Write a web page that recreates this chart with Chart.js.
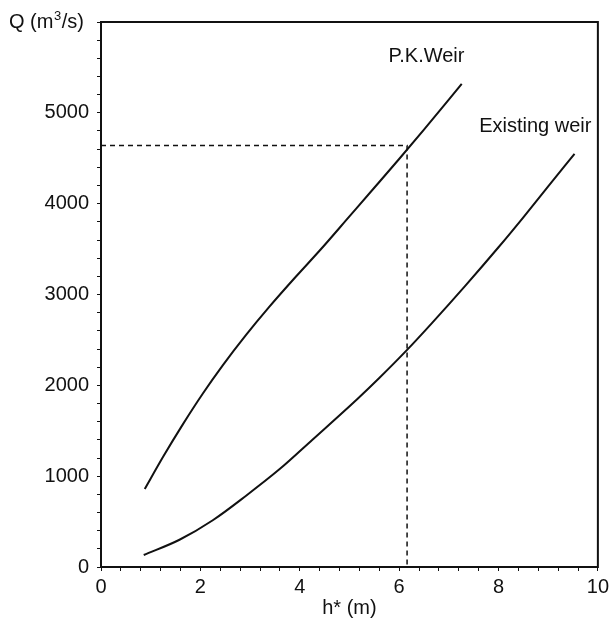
<!DOCTYPE html>
<html>
<head>
<meta charset="utf-8">
<script src="https://cdn.jsdelivr.net/npm/chart.js@4.4.1/dist/chart.umd.min.js"></script>
<style>
  html, body { margin: 0; padding: 0; background: #fff; }
  #wrap { width: 613px; height: 622px; }
</style>
</head>
<body>
<div id="wrap"><canvas id="chart" width="613" height="622"></canvas></div>
<script>
// values: h* (m) against Q (m3/s)
const pkH = [0.88, 1.25, 1.65, 2.05, 2.45, 2.92, 3.39, 3.92, 4.42, 5.0, 5.5, 6.0, 6.5, 7.0, 7.26];
const pkQ = [858, 1213, 1573, 1910, 2220, 2555, 2866, 3195, 3495, 3860, 4175, 4492, 4815, 5145, 5320];

const exH = [0.86, 1.58, 2.25, 2.92, 3.59, 4.25, 5.16, 5.59, 6.16, 6.66, 7.33, 8.0, 8.5, 9.0, 9.53];
const exQ = [132, 300, 515, 785, 1075, 1399, 1850, 2075, 2390, 2685, 3095, 3520, 3850, 4190, 4548];

// reading lines for the design discharge
const readH = [0, 6.16, 6.16];
const readQ = [4640, 4640, 0];

const curveNames = ['P.K.Weir', 'Existing weir'];
const labelH = [6.55, 8.74];
const labelQ = [5620, 4850];

const FONT = '"Liberation Sans", Arial, Helvetica, sans-serif';

function toPoints(xs, ys) {
    return xs.map((x, i) => ({ x: x, y: ys[i] }));
}

// frame, curve names and the Q axis heading
const extrasPlugin = {
    id: 'extras',
    afterDraw(chart) {
        const ctx = chart.ctx;
        const area = chart.chartArea;
        const xs = chart.scales.x;
        const ys = chart.scales.y;
        ctx.save();
        ctx.strokeStyle = '#111';
        ctx.lineWidth = 2;
        ctx.beginPath();
        ctx.moveTo(area.left, area.bottom);
        ctx.lineTo(area.left, area.top);
        ctx.lineTo(area.right, area.top);
        ctx.lineTo(area.right, area.bottom);
        ctx.lineTo(area.left, area.bottom);
        ctx.stroke();

        ctx.fillStyle = '#111';
        ctx.font = '20px ' + FONT;
        ctx.textAlign = 'center';
        ctx.textBaseline = 'middle';
        curveNames.forEach((name, i) => {
            ctx.fillText(name, xs.getPixelForValue(labelH[i]), ys.getPixelForValue(labelQ[i]));
        });

        // "Q (m3/s)" with a raised 3
        ctx.textAlign = 'left';
        let x = 9;
        const y = area.top;
        ctx.fillText('Q (m', x, y);
        x += ctx.measureText('Q (m').width;
        ctx.font = '13px ' + FONT;
        ctx.fillText('3', x + 0.5, y - 6);
        x += ctx.measureText('3').width + 1;
        ctx.font = '20px ' + FONT;
        ctx.fillText('/s)', x, y);
        ctx.restore();
    }
};

const isMultiple = (v, step) => Math.abs(v / step - Math.round(v / step)) < 1e-6;

new Chart(document.getElementById('chart'), {
    type: 'scatter',
    data: {
        datasets: [
            {
                data: toPoints(pkH, pkQ),
                showLine: true,
                borderColor: '#111',
                borderWidth: 2,
                pointRadius: 0,
                cubicInterpolationMode: 'monotone'
            },
            {
                data: toPoints(exH, exQ),
                showLine: true,
                borderColor: '#111',
                borderWidth: 2,
                pointRadius: 0,
                cubicInterpolationMode: 'monotone'
            },
            {
                data: toPoints(readH, readQ),
                showLine: true,
                borderColor: '#111',
                borderWidth: 1.5,
                borderDash: [5, 4],
                pointRadius: 0,
                tension: 0
            }
        ]
    },
    options: {
        responsive: false,
        animation: false,
        layout: { padding: { top: 22, right: 13, left: 0, bottom: 0 } },
        plugins: {
            legend: { display: false },
            tooltip: { enabled: false }
        },
        scales: {
            x: {
                type: 'linear',
                min: 0,
                max: 10,
                afterFit: s => { s.height = 55; },
                border: { display: false },
                grid: {
                    drawOnChartArea: false,
                    drawTicks: true,
                    tickLength: 4,
                    tickColor: '#111',
                    tickWidth: 1
                },
                ticks: {
                    stepSize: 0.4,
                    autoSkip: false,
                    maxRotation: 0,
                    padding: 4,
                    color: '#111',
                    font: { family: FONT, size: 20 },
                    callback: v => isMultiple(v, 2) ? String(Math.round(v)) : ''
                },
                title: {
                    display: true,
                    text: 'h* (m)',
                    color: '#111',
                    font: { family: FONT, size: 20 },
                    padding: { top: 0, bottom: 2 }
                }
            },
            y: {
                type: 'linear',
                min: 0,
                max: 6000,
                afterFit: s => { s.width = 101; },
                border: { display: false },
                grid: {
                    drawOnChartArea: false,
                    drawTicks: true,
                    tickLength: 4,
                    tickColor: '#111',
                    tickWidth: 1
                },
                ticks: {
                    stepSize: 200,
                    autoSkip: false,
                    padding: 8,
                    color: '#111',
                    font: { family: FONT, size: 20 },
                    callback: v => (isMultiple(v, 1000) && v < 6000) ? String(v) : ''
                }
            }
        }
    },
    plugins: [extrasPlugin]
});
</script>
</body>
</html>
